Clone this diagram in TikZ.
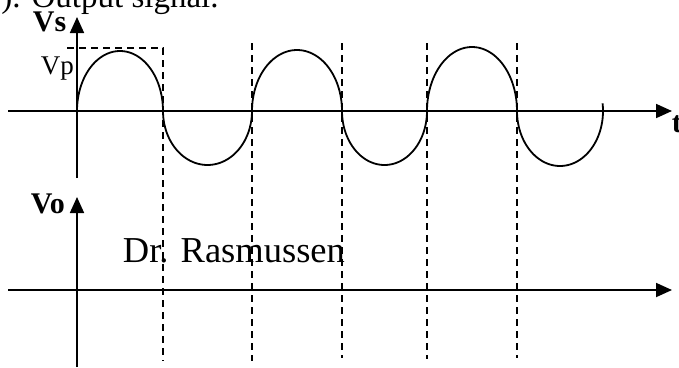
\documentclass[tikz,border=0pt]{standalone}
\usepackage{fontspec}
\setmainfont{Liberation Serif}
\usetikzlibrary{arrows.meta}
\begin{document}
\begin{tikzpicture}[x=1pt,y=-1pt,line width=1.8pt,
  axis/.style={-{Triangle[length=16pt,width=14pt]}},
  guide/.style={dash pattern=on 7pt off 5pt},
  wave/.style={line width=1.8pt},
  lbl/.style={inner sep=0pt,anchor=base west}]
\useasboundingbox (0,0) rectangle (679,367);
% title (cut off at top)
\node[lbl,font=\fontsize{33}{36}\selectfont] (title) at (-16,7) {b). Output signal.};
% axes coordinates
\coordinate (vsb) at (77,178);
\coordinate (vst) at (77,17);
\coordinate (tl) at (8,111);
\coordinate (tr) at (672,111);
\coordinate (vob) at (77,367);
\coordinate (vot) at (77,197);
\coordinate (bl) at (8,290);
\coordinate (br) at (672,290);
\draw[axis] (vsb) -- (vst);
\draw[axis] (tl) -- (tr);
\draw[axis] (vob) -- (vot);
\draw[axis] (bl) -- (br);
% labels
\node[lbl,font=\fontsize{30}{32}\selectfont\bfseries] (vs) at (32,31) {Vs};
\node[lbl,font=\fontsize{27}{30}\selectfont] (vp) at (40,74) {Vp};
\node[lbl,font=\fontsize{30}{32}\selectfont\bfseries] (t) at (671,132) {t};
\node[lbl,font=\fontsize{30}{32}\selectfont\bfseries] (vo) at (30,213) {Vo};
\node[lbl,font=\fontsize{36.5}{40}\selectfont] (dr) at (122,262) {Dr. Rasmussen};
% dashed guides
\coordinate (p0) at (67,48);
\coordinate (p1) at (163,48);
\coordinate (p1b) at (163,361);
\draw[guide] (p0) -- (p1) -- (p1b);
\coordinate (g2t) at (252,43); \coordinate (g2b) at (252,361);
\coordinate (g3t) at (342,43); \coordinate (g3b) at (342,358);
\coordinate (g4t) at (427,43); \coordinate (g4b) at (427,359);
\coordinate (g5t) at (517,43); \coordinate (g5b) at (517,358);
\draw[guide] (g2t) -- (g2b);
\draw[guide] (g3t) -- (g3b);
\draw[guide] (g4t) -- (g4b);
\draw[guide] (g5t) -- (g5b);
% waveform
\draw[wave] plot[domain=0:180,samples=60,smooth] ({120-43*cos(\x)},{111-60*sin(\x)});
\draw[wave] plot[domain=0:180,samples=60,smooth] ({207.5-44.5*cos(\x)},{111+54*sin(\x)});
\draw[wave] plot[domain=0:180,samples=60,smooth] ({297-45*cos(\x)},{111-61*sin(\x)});
\draw[wave] plot[domain=0:180,samples=60,smooth] ({384.5-42.5*cos(\x)},{111+54*sin(\x)});
\draw[wave] plot[domain=0:180,samples=60,smooth] ({472-45*cos(\x)},{111-64*sin(\x)});
\draw[wave] plot[domain=0:188,samples=60,smooth] ({560-43*cos(\x)},{111+55*sin(\x)});
\end{tikzpicture}
\end{document}
